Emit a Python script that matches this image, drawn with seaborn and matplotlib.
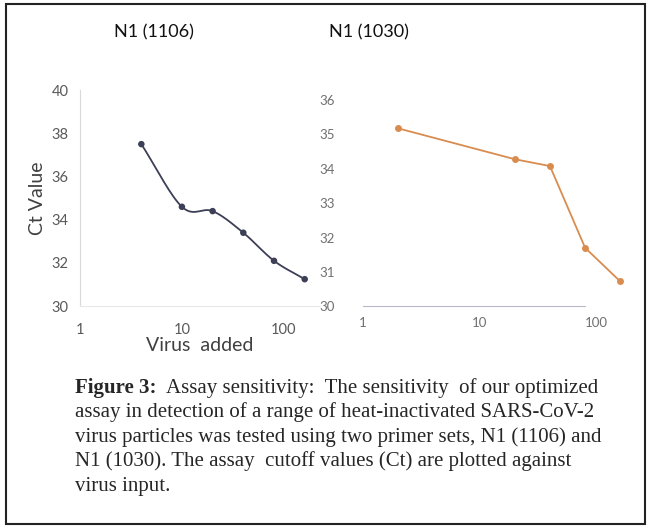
import numpy as np
import pandas as pd
import matplotlib.pyplot as plt
from matplotlib.patches import Rectangle
from matplotlib.ticker import FixedLocator, NullLocator
import seaborn as sns

# N1 (1106) primer set
virus_1106 = [4, 10, 20, 40, 80, 160]
ct_1106 = [37.5, 34.6, 34.4, 33.4, 32.1, 31.25]

# N1 (1030) primer set
virus_1030 = [2, 20, 40, 80, 160]
ct_1030 = [35.18, 34.28, 34.08, 31.7, 30.72]

titles = ["N1 (1106)", "N1 (1030)"]
caption_lines = [
    "Assay sensitivity:  The sensitivity  of our optimized",
    "assay in detection of a range of heat-inactivated SARS-CoV-2",
    "virus particles was tested using two primer sets, N1 (1106) and",
    "N1 (1030). The assay  cutoff values (Ct) are plotted against",
    "virus input.",
]


def smooth_curve(x, y, steps=30):
    """Catmull-Rom curve through the points in log10(x) space."""
    lx = np.log10(x)
    pts = np.column_stack([lx, y])
    pts = np.vstack([pts[0] * 2 - pts[1], pts, pts[-1] * 2 - pts[-2]])
    out = []
    t = np.linspace(0, 1, steps)[:, None]
    for i in range(1, len(pts) - 2):
        p0, p1, p2, p3 = pts[i - 1], pts[i], pts[i + 1], pts[i + 2]
        seg = 0.5 * ((2 * p1) + (-p0 + p2) * t
                     + (2 * p0 - 5 * p1 + 4 * p2 - p3) * t ** 2
                     + (-p0 + 3 * p1 - 3 * p2 + p3) * t ** 3)
        out.append(seg)
    out = np.vstack(out)
    return 10 ** out[:, 0], out[:, 1]


sns.set_style("white")
plt.rcParams['font.family'] = ['Lato', 'DejaVu Sans']

fig = plt.figure(figsize=(6.5, 5.27), dpi=100)

# left panel
ax1 = fig.add_axes([0.123, 0.419, 0.369, 0.410])
df1 = pd.DataFrame({"virus": virus_1106, "ct": ct_1106})
sx, sy = smooth_curve(virus_1106, ct_1106)
ax1.plot(sx, sy, color="#3c3f55", lw=1.3)
sns.scatterplot(data=df1, x="virus", y="ct", ax=ax1, color="#3c3f55",
                s=22, edgecolor="none", zorder=3)
ax1.set_xscale("log")
ax1.set_xlim(1, 225)
ax1.set_ylim(30, 40)
ax1.xaxis.set_major_locator(FixedLocator([1, 10, 100]))
ax1.xaxis.set_minor_locator(NullLocator())
ax1.set_xticklabels(["1", "10", "100"])
ax1.set_yticks([30, 32, 34, 36, 38, 40])
for s in ["top", "right"]:
    ax1.spines[s].set_visible(False)
ax1.spines["left"].set_color("#d9d9d9")
ax1.spines["bottom"].set_color("#e8e8e8")
ax1.tick_params(axis="both", colors="#595959", labelsize=10.5, length=0, pad=8)
ax1.tick_params(axis="x", pad=12)
ax1.set_xlabel("Virus  added", fontsize=14, color="#404040", labelpad=0)
ax1.set_ylabel("Ct Value", fontsize=14, color="#404040", labelpad=4)

# right panel
ax2 = fig.add_axes([0.558, 0.419, 0.426, 0.391])
df2 = pd.DataFrame({"virus": virus_1030, "ct": ct_1030})
sns.lineplot(data=df2, x="virus", y="ct", ax=ax2, color="#d98c4f", lw=1.3,
             marker="o", markersize=5, markeredgecolor="none")
ax2.set_xscale("log")
ax2.set_xlim(1, 234)
ax2.set_ylim(30, 36)
ax2.xaxis.set_major_locator(FixedLocator([1, 10, 100]))
ax2.xaxis.set_minor_locator(NullLocator())
ax2.set_xticklabels(["1", "10", "100"])
ax2.set_yticks([30, 31, 32, 33, 34, 35, 36])
for s in ["top", "right", "left"]:
    ax2.spines[s].set_visible(False)
ax2.spines["bottom"].set_color("#b8b8c8")
ax2.spines["bottom"].set_bounds(1, 80)
ax2.tick_params(axis="both", colors="#707070", labelsize=9.5, length=0)
ax2.tick_params(axis="y", pad=20)
ax2.tick_params(axis="x", pad=8)
ax2.set_xlabel("")
ax2.set_ylabel("")

fig.text(154 / 650, 1 - 32 / 527, titles[0], ha="center", va="center",
         fontsize=13, color="#111111")
fig.text(369 / 650, 1 - 32 / 527, titles[1], ha="center", va="center",
         fontsize=13, color="#111111")

# caption
y0 = 388
for i, line in enumerate(caption_lines):
    y = 1 - (y0 + i * 24.5) / 527
    if i == 0:
        fig.text(75 / 650, y, "Figure 3:", fontsize=15, family="Liberation Serif",
                 weight="bold", va="center")
        fig.text(166 / 650, y, line, fontsize=15, family="Liberation Serif",
                 va="center")
    else:
        fig.text(75 / 650, y, line, fontsize=15, family="Liberation Serif",
                 va="center")

# page frame
fig.patches.append(Rectangle((0.009, 0.006), 0.984, 0.986, transform=fig.transFigure,
                             fill=False, edgecolor="#222222", lw=1.5))

fig.savefig("out.png", dpi=100)
